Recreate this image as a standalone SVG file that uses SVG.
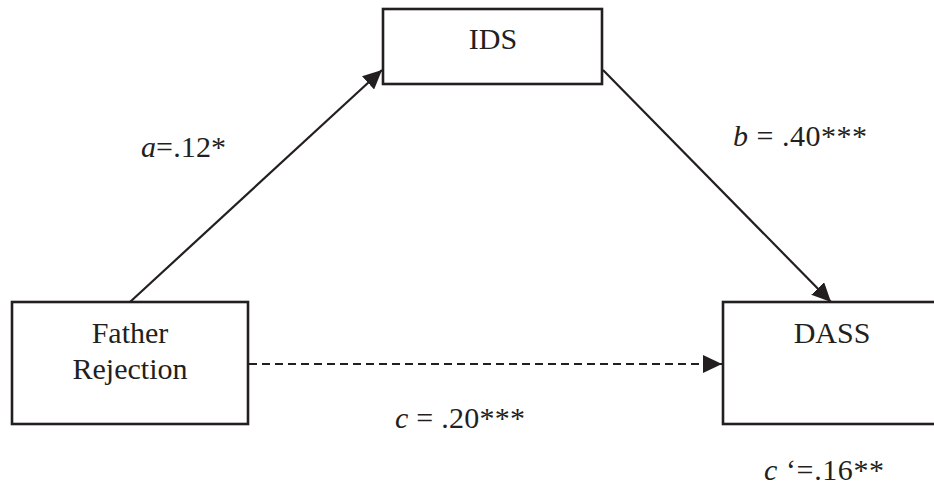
<svg xmlns="http://www.w3.org/2000/svg" width="934" height="487" viewBox="0 0 934 487">
<style>
.box{fill:#fff;stroke:#231f20;stroke-width:2.6}
.t{font-family:"Liberation Serif","Times New Roman",serif;font-size:30px;fill:#231f20}
.c{text-anchor:middle}
.i{font-style:italic}
.ln{stroke:#231f20;stroke-width:2.2;fill:none}
</style>
<defs>
<marker id="ah" markerUnits="userSpaceOnUse" markerWidth="20" markerHeight="18" refX="19" refY="9" orient="auto" viewBox="0 0 20 18">
<path d="M0,0 L19,9 L0,18 Z" fill="#231f20"/>
</marker>
</defs>
<rect width="934" height="487" fill="#fff"/>
<g id="connectors">
<line class="ln" x1="130" y1="302" x2="382" y2="70" marker-end="url(#ah)"/>
<line class="ln" x1="603" y1="70" x2="831" y2="302" marker-end="url(#ah)"/>
<line class="ln" x1="249" y1="364" x2="722" y2="364" stroke-dasharray="8,5" marker-end="url(#ah)"/>
</g>
<g id="ids">
<rect class="box" x="383" y="9" width="219" height="75"/>
<text class="t c" x="493" y="49">IDS</text>
</g>
<g id="father">
<rect class="box" x="12" y="302" width="236" height="122"/>
<text class="t c" x="130" y="343">Father</text>
<text class="t c" x="130" y="379">Rejection</text>
</g>
<g id="dass">
<rect class="box" x="723" y="302" width="220" height="122"/>
<text class="t c" x="832" y="343">DASS</text>
</g>
<g id="labels">
<text class="t" x="141" y="157" textLength="85"><tspan class="i">a</tspan>=.12*</text>
<text class="t" x="733" y="146" textLength="134"><tspan class="i">b</tspan> = .40***</text>
<text class="t" x="395" y="428" textLength="130"><tspan class="i">c</tspan> = .20***</text>
<text class="t" x="764" y="480" textLength="120"><tspan class="i">c</tspan> ‘=.16**</text>
</g>
</svg>
